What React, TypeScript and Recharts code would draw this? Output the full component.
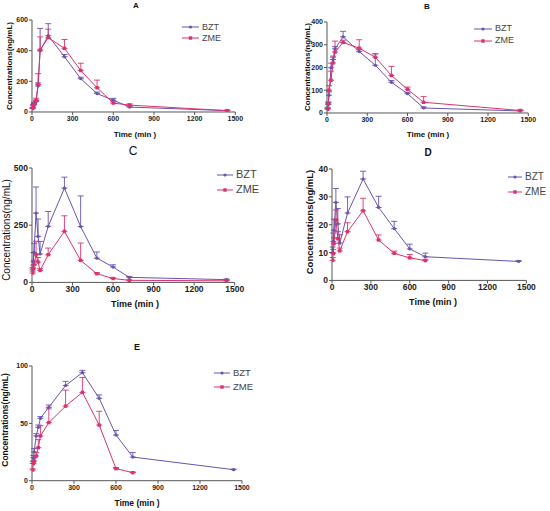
import React from "react";
import { LineChart, Line, XAxis, YAxis, ErrorBar, Legend } from "recharts";

/** Sampling times (min), shared by every panel. */
const TIMES = [5, 10, 15, 30, 45, 60, 120, 240, 360, 480, 600, 720, 1440];
const X_TICKS = [0, 300, 600, 900, 1200, 1500];

const A_BZT = [25, 45, 55, 68, 170, 400, 498, 360, 217, 120, 77, 32, 9];
const A_BZT_SD = [5, 5, 8, 10, 20, 145, 78, 15, 10, 10, 12, 5, 3];
const A_ZME = [22, 40, 50, 75, 180, 405, 485, 415, 270, 158, 58, 45, 9];
const A_ZME_SD = [5, 8, 10, 15, 70, 85, 55, 58, 48, 50, 8, 8, 3];

const B_BZT = [20, 37, 78, 199, 235, 282, 335, 270, 210, 135, 85, 22, 9];
const B_BZT_SD = [5, 8, 15, 20, 15, 10, 24, 8, 50, 8, 6, 5, 2];
const B_ZME = [16, 41, 100, 144, 220, 268, 310, 285, 245, 165, 104, 47, 11];
const B_ZME_SD = [5, 8, 20, 40, 25, 48, 10, 37, 15, 40, 10, 25, 3];

const C_BZT = [55, 90, 131, 303, 201, 124, 245, 412, 244, 106, 67, 22, 12];
const C_BZT_SD = [10, 40, 40, 114, 76, 55, 65, 48, 134, 27, 10, 4, 3];
const C_ZME = [41, 60, 77, 121, 89, 52, 121, 223, 96, 38, 17, 9, 7];
const C_ZME_SD = [8, 15, 20, 59, 20, 8, 29, 68, 76, 5, 3, 2, 2];

const D_BZT = [10, 14, 18, 28, 20.3, 13.4, 24.2, 36.4, 26.2, 18.6, 11.3, 8.5, 6.8];
const D_BZT_SD = [2, 3, 4, 5, 5.5, 3, 5.8, 2.8, 4, 2.6, 1.7, 1.3, 0.3];
const D_ZME = [7.2, 9.6, 13.3, 21.7, 15, 10.6, 17.5, 25, 14.5, 9.7, 8.1, 7.1];
const D_ZME_SD = [1, 1.5, 2, 3.6, 2.5, 1, 3.2, 4.5, 1.8, 0.8, 1.2, 0.5];

const E_BZT = [15, 20, 25, 39, 46.5, 54.4, 64, 83, 94.2, 71.8, 39.8, 20.6, 9.6];
const E_BZT_SD = [2, 2, 3, 2, 2, 1.5, 2, 3.6, 2, 3, 4, 4, 0.5];
const E_ZME = [9.3, 15, 17, 21.5, 28.8, 39, 50.6, 65, 77, 48.5, 10.5, 7];
const E_ZME_SD = [1, 2, 3, 3, 7, 9, 12, 14, 13, 12, 1, 0.5];

const BZT_COLOR = "#6a52ad";
const ZME_COLOR = "#d9336f";
const AXIS_COLOR = "#555";
const FONT = "Arial, 'Liberation Sans', sans-serif";

function toRows(values: number[], sd: number[]) {
  return values.map((v, i) => ({ t: TIMES[i], v, e: [0, sd[i]] }));
}

function circleDot(p: any) {
  if (p.cx == null || p.cy == null) return <g key={p.index} />;
  return <circle key={p.index} cx={p.cx} cy={p.cy} r={1.6} fill={BZT_COLOR} />;
}

function squareDot(p: any) {
  if (p.cx == null || p.cy == null) return <g key={p.index} />;
  return (
    <rect key={p.index} x={p.cx - 1.7} y={p.cy - 1.7} width={3.4} height={3.4} fill={ZME_COLOR} />
  );
}

/** Two-row legend drawn like the Prism original: short line + marker + name. */
function LegendBox({ font, gap, lineLen }: { font: number; gap: number; lineLen: number }) {
  const rows = [
    { name: "BZT", color: BZT_COLOR, square: false },
    { name: "ZME", color: ZME_COLOR, square: true },
  ];
  return (
    <div style={{ fontFamily: FONT }}>
      {rows.map((r) => (
        <div key={r.name} style={{ display: "flex", alignItems: "center", height: gap }}>
          <svg width={lineLen} height={6} style={{ display: "block" }}>
            <line x1={0} y1={3} x2={lineLen} y2={3} stroke={r.color} strokeWidth={1} />
            {r.square ? (
              <rect x={lineLen / 2 - 1.7} y={1.3} width={3.4} height={3.4} fill={r.color} />
            ) : (
              <circle cx={lineLen / 2} cy={3} r={1.6} fill={r.color} />
            )}
          </svg>
          <span style={{ fontSize: font, marginLeft: 3, color: "#444", lineHeight: 1 }}>
            {r.name}
          </span>
        </div>
      ))}
    </div>
  );
}

interface PanelProps {
  bzt: number[];
  bztSd: number[];
  zme: number[];
  zmeSd: number[];
  yTicks: number[];
  x0: number;
  x1: number;
  yTop: number;
  yBot: number;
  tickFont: number;
  legendX: number;
  legendY: number;
  legendFont: number;
  legendGap: number;
  legendLine: number;
}

const PAD_LEFT = 30;
const PAD_TOP = 5;
const PAD_RIGHT = 12;
const PAD_BOTTOM = 20;

function Panel(p: PanelProps) {
  const left = p.x0 - PAD_LEFT;
  const top = p.yTop - PAD_TOP;
  const width = p.x1 - p.x0 + PAD_LEFT + PAD_RIGHT;
  const height = p.yBot - p.yTop + PAD_TOP + PAD_BOTTOM;
  const tick = { fontSize: p.tickFont, fontWeight: "bold", fill: "#222", fontFamily: FONT };
  return (
    <div style={{ position: "absolute", left, top }}>
      <LineChart
        width={width}
        height={height}
        margin={{ top: PAD_TOP, right: PAD_RIGHT, bottom: 0, left: 0 }}
      >
        <XAxis
          type="number"
          dataKey="t"
          domain={[0, 1500]}
          ticks={X_TICKS}
          height={PAD_BOTTOM}
          tick={tick}
          tickSize={3}
          tickMargin={1}
          stroke={AXIS_COLOR}
          allowDataOverflow
        />
        <YAxis
          type="number"
          domain={[0, p.yTicks[p.yTicks.length - 1]]}
          ticks={p.yTicks}
          width={PAD_LEFT}
          tick={tick}
          tickSize={3}
          tickMargin={1}
          stroke={AXIS_COLOR}
          allowDataOverflow
        />
        <Legend
          layout="vertical"
          align="center"
          verticalAlign="middle"
          wrapperStyle={{ left: p.legendX - left, top: p.legendY - top, width: "auto" }}
          content={() => (
            <LegendBox font={p.legendFont} gap={p.legendGap} lineLen={p.legendLine} />
          )}
        />
        <Line
          data={toRows(p.bzt, p.bztSd)}
          dataKey="v"
          name="BZT"
          stroke={BZT_COLOR}
          strokeWidth={1}
          dot={circleDot}
          activeDot={false}
          isAnimationActive={false}
        >
          <ErrorBar dataKey="e" direction="y" width={3} stroke={BZT_COLOR} strokeWidth={0.9} />
        </Line>
        <Line
          data={toRows(p.zme, p.zmeSd)}
          dataKey="v"
          name="ZME"
          stroke={ZME_COLOR}
          strokeWidth={1}
          dot={squareDot}
          activeDot={false}
          isAnimationActive={false}
        >
          <ErrorBar dataKey="e" direction="y" width={3} stroke={ZME_COLOR} strokeWidth={0.9} />
        </Line>
      </LineChart>
    </div>
  );
}

function Text({
  x,
  y,
  size,
  bold,
  rotate,
  children,
}: {
  x: number;
  y: number;
  size: number;
  bold?: boolean;
  rotate?: boolean;
  children: React.ReactNode;
}) {
  return (
    <div
      style={{
        position: "absolute",
        left: x,
        top: y,
        transform: `translate(-50%, -50%)${rotate ? " rotate(-90deg)" : ""}`,
        fontSize: size,
        fontWeight: bold ? "bold" : "normal",
        whiteSpace: "nowrap",
        color: "#111",
        fontFamily: FONT,
        lineHeight: 1,
      }}
    >
      {children}
    </div>
  );
}

const YLABEL = "Concentrations(ng/mL)";
const XLABEL = "Time (min )";

export default function App() {
  return (
    <div
      style={{
        position: "absolute",
        left: 0,
        top: 0,
        width: 550,
        height: 511,
        background: "#fff",
        overflow: "hidden",
        fontFamily: FONT,
      }}
    >
      {/* A */}
      <Text x={136} y={6} size={8} bold>A</Text>
      <Text x={10} y={66} size={8} bold rotate>{YLABEL}</Text>
      <Text x={135} y={135} size={8} bold>{XLABEL}</Text>
      <Panel
        bzt={A_BZT} bztSd={A_BZT_SD} zme={A_ZME} zmeSd={A_ZME_SD}
        yTicks={[0, 200, 400, 600]}
        x0={31.7} x1={235} yTop={20} yBot={112}
        tickFont={7}
        legendX={182} legendY={21.5} legendFont={9} legendGap={11} legendLine={17}
      />

      {/* B */}
      <Text x={427} y={7} size={8} bold>B</Text>
      <Text x={308} y={67} size={8} bold rotate>{YLABEL}</Text>
      <Text x={428} y={135} size={8} bold>{XLABEL}</Text>
      <Panel
        bzt={B_BZT} bztSd={B_BZT_SD} zme={B_ZME} zmeSd={B_ZME_SD}
        yTicks={[0, 100, 200, 300, 400]}
        x0={326.7} x1={528} yTop={21.7} yBot={112.7}
        tickFont={7}
        legendX={474} legendY={23} legendFont={9} legendGap={11.7} legendLine={18}
      />

      {/* C */}
      <Text x={133} y={151} size={12}>C</Text>
      <Text x={7} y={230} size={10} rotate>{YLABEL}</Text>
      <Text x={135} y={304} size={9} bold>{XLABEL}</Text>
      <Panel
        bzt={C_BZT} bztSd={C_BZT_SD} zme={C_ZME} zmeSd={C_ZME_SD}
        yTicks={[0, 250, 500]}
        x0={32.3} x1={235} yTop={168.3} yBot={282.7}
        tickFont={8.5}
        legendX={217} legendY={167.5} legendFont={11} legendGap={15} legendLine={16}
      />

      {/* D */}
      <Text x={428} y={153} size={10} bold>D</Text>
      <Text x={310} y={222} size={9.5} bold rotate>{YLABEL}</Text>
      <Text x={433} y={302} size={9} bold>{XLABEL}</Text>
      <Panel
        bzt={D_BZT} bztSd={D_BZT_SD} zme={D_ZME} zmeSd={D_ZME_SD}
        yTicks={[0, 10, 20, 30, 40]}
        x0={332.3} x1={526.7} yTop={169.3} yBot={280.7}
        tickFont={8.5}
        legendX={508} legendY={170} legendFont={10} legendGap={14.7} legendLine={14}
      />

      {/* E */}
      <Text x={137} y={347} size={9} bold>E</Text>
      <Text x={5} y={420} size={8.5} bold rotate>{YLABEL}</Text>
      <Text x={137} y={503} size={8.5} bold>{XLABEL}</Text>
      <Panel
        bzt={E_BZT} bztSd={E_BZT_SD} zme={E_ZME} zmeSd={E_ZME_SD}
        yTicks={[0, 50, 100]}
        x0={31.7} x1={241.7} yTop={366} yBot={480.7}
        tickFont={7}
        legendX={214} legendY={366} legendFont={9.5} legendGap={14} legendLine={16}
      />
    </div>
  );
}
